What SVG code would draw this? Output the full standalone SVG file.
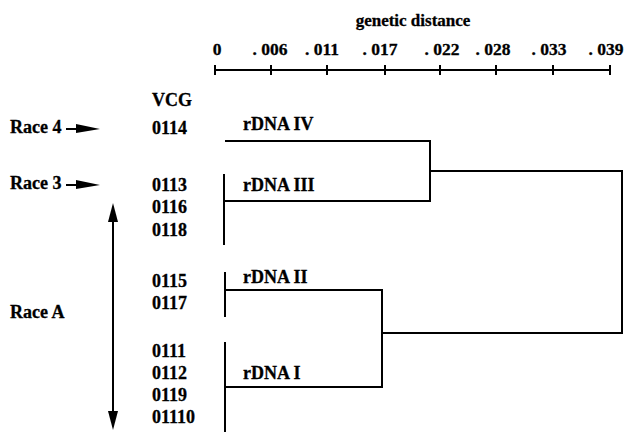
<svg xmlns="http://www.w3.org/2000/svg" width="634" height="432" viewBox="0 0 634 432">
<style>
text{font-family:"Liberation Serif","Times New Roman",serif;font-weight:bold;fill:#000;font-size:18px;stroke:#000;stroke-width:0.3}
.ttl{font-size:17px}
.t{font-size:17.5px}
.ln{stroke:#000;stroke-width:2;fill:none}
</style>
<rect width="634" height="432" fill="#fff"/>
<g id="axis">
<text x="413" y="26" text-anchor="middle" class="ttl">genetic distance</text>
<text x="217" y="55" text-anchor="middle" class="t">0</text>
<text x="270" y="55" text-anchor="middle" class="t">. 006</text>
<text x="322" y="55" text-anchor="middle" class="t">. 011</text>
<text x="380" y="55" text-anchor="middle" class="t">. 017</text>
<text x="442" y="55" text-anchor="middle" class="t">. 022</text>
<text x="493" y="55" text-anchor="middle" class="t">. 028</text>
<text x="549" y="55" text-anchor="middle" class="t">. 033</text>
<text x="606" y="55" text-anchor="middle" class="t">. 039</text>
<path class="ln" d="M215,70H611M215,65V75M271,65V75M327,65V75M385,65V75M440,65V75M496,65V75M553,65V75M610,65V75"/>
</g>
<g id="vcg-labels">
<text x="152" y="106">VCG</text>
<text x="152" y="134">0114</text>
<text x="152" y="191">0113</text>
<text x="152" y="213">0116</text>
<text x="152" y="236">0118</text>
<text x="152" y="287">0115</text>
<text x="152" y="309">0117</text>
<text x="152" y="357">0111</text>
<text x="152" y="379">0112</text>
<text x="152" y="401">0119</text>
<text x="152" y="423">01110</text>
</g>
<g id="race4">
<text x="10" y="133">Race 4</text>
<path class="ln" d="M66,129H80"/>
<polygon points="76,124 100,129 76,133"/>
</g>
<g id="race3">
<text x="10" y="189">Race 3</text>
<path class="ln" d="M66,185H80"/>
<polygon points="76,180 100,185 76,189"/>
</g>
<g id="raceA">
<text x="10" y="318">Race A</text>
<path class="ln" d="M113,218V414"/>
<polygon points="108,222 113,203 118,222"/>
<polygon points="108,411 113,430 118,411"/>
</g>
<g id="rdna4"><text x="243" y="130">rDNA IV</text></g>
<g id="rdna3"><text x="243" y="191">rDNA III</text><path class="ln" d="M224,174V245"/></g>
<g id="rdna2"><text x="243" y="283">rDNA II</text><path class="ln" d="M225,272V317"/></g>
<g id="rdna1"><text x="243" y="379">rDNA I</text><path class="ln" d="M225,342V432"/></g>
<g id="connectors">
<path class="ln" d="M225,141H430V201H225"/>
<path class="ln" d="M430,171H622V333H382"/>
<path class="ln" d="M225,290H382V387H225"/>
</g>
</svg>
